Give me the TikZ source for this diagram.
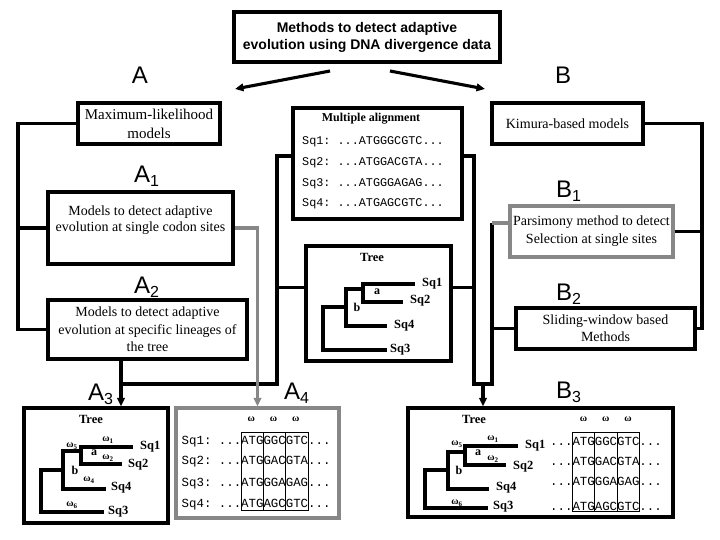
\documentclass[tikz,border=0pt]{standalone}
\usepackage{fontspec}
\setmainfont{Liberation Serif}
\setsansfont{Liberation Sans}
\setmonofont{Liberation Mono}
\usetikzlibrary{arrows.meta}
\definecolor{gline}{RGB}{135,135,135}
\newcommand{\lsub}[1]{\raisebox{-4pt}{\fontsize{16}{16}\selectfont #1}}
\newcommand{\wsub}[1]{ω\textsubscript{#1}}
\begin{document}
\begin{tikzpicture}[x=1pt,y=-1pt,
  mybox/.style={draw, line width=3.1pt, inner sep=0pt, align=center, font=\fontsize{14}{17.5}\selectfont},
  gbox/.style={mybox, draw=gline},
  conn/.style={line width=3.1pt},
  gconn/.style={line width=3.1pt, draw=gline},
  arr/.style={-{Triangle[length=8.5pt,width=7.5pt]}},
  lab/.style={font=\sffamily\fontsize{24}{24}\selectfont, inner sep=0pt},
  labs/.style={lab, anchor=base west},
  seq/.style={font=\ttfamily\fontsize{12.4}{12.4}\selectfont, inner sep=0pt, anchor=west},
  sqlab/.style={font=\bfseries\fontsize{12.5}{12.5}\selectfont, inner sep=0pt, anchor=west},
  tlc/.style={font=\bfseries\fontsize{12}{12}\selectfont, inner sep=0pt},
  treehead/.style={font=\bfseries\fontsize{12.5}{12.5}\selectfont, inner sep=0pt},
  om/.style={font=\bfseries\fontsize{10}{10}\selectfont, inner sep=0pt},
  treeline/.style={line width=3.2pt},
  colbox/.style={line width=0.8pt}
]
\fill[white] (0,0) rectangle (720,540);
\useasboundingbox (0,0) rectangle (720,540);

% ---------- labels
\node[lab] (labA) at (140,75) {A};
\node[lab] (labB) at (563,75) {B};
\node[labs] (labA1) at (134,183) {A\lsub{1}};
\node[labs] (labA2) at (134,293) {A\lsub{2}};
\node[labs] (labA3) at (88,400) {A\lsub{3}};
\node[labs] (labA4) at (284,399.6) {A\lsub{4}};
\node[labs] (labB1) at (556,198) {B\lsub{1}};
\node[labs] (labB2) at (556,300) {B\lsub{2}};
\node[labs] (labB3) at (556,398.6) {B\lsub{3}};

% ---------- boxes
\node[mybox, font=\sffamily\bfseries\fontsize{14}{17}\selectfont, minimum width=266pt, minimum height=50pt] (title) at (367,37) {Methods to detect adaptive\\evolution using DNA divergence data};
\node[mybox, minimum width=142pt, minimum height=41pt, font=\fontsize{15}{19}\selectfont] (ml) at (149,123.5) {Maximum-likelihood\\models};
\node[mybox, minimum width=151pt, minimum height=41pt] (kim) at (567.5,123.5) {Kimura-based models};
\node[mybox, minimum width=169pt, minimum height=111pt] (ma) at (377.5,163.5) {};
\node[mybox, minimum width=185pt, minimum height=72pt] (a1) at (140.5,228) {};
\node[font=\fontsize{14}{16.5}\selectfont, align=center, inner sep=0pt] (a1t) at (140.5,220) {Models to detect adaptive\\evolution at single codon sites};
\node[mybox, minimum width=199pt, minimum height=59pt] (a2) at (147.5,329.5) {Models to detect adaptive\\evolution at specific lineages of\\the tree};
\node[mybox, minimum width=145pt, minimum height=115pt] (tree) at (378.5,303.5) {};
\node[gbox, minimum width=163pt, minimum height=51pt, font=\fontsize{14}{18}\selectfont] (pars) at (591.5,231.5) {Parsimony method to detect\\Selection at single sites};
\node[mybox, minimum width=179pt, minimum height=41pt, font=\fontsize{14}{17}\selectfont] (slid) at (605.5,328.5) {Sliding-window based\\Methods};
\node[mybox, minimum width=144pt, minimum height=115pt] (a3) at (96,465.5) {};
\node[gbox, minimum width=163pt, minimum height=110pt] (a4) at (257.5,463) {};
\node[mybox, minimum width=265pt, minimum height=109pt] (b3) at (540.5,462.5) {};

% ---------- top arrows
\coordinate (t1s) at (330,71);
\coordinate (t1e) at (235,89);
\coordinate (t2s) at (390,71);
\coordinate (t2e) at (485,89);
\draw[conn,arr] (t1s) -- (t1e);
\draw[conn,arr] (t2s) -- (t2e);

% ---------- helper coordinates
\coordinate (lbus) at (18,0);
\coordinate (rbus) at (702,0);
\coordinate (cl) at (277,384);
\coordinate (j3) at (121,384);
\coordinate (cr1) at (474,384);
\coordinate (cr2) at (492,384);
\coordinate (j4) at (483,384);
\coordinate (maw) at ([yshift=7.5pt]ma.west);
\coordinate (mae) at ([yshift=7.5pt]ma.east);
\coordinate (trw) at ([yshift=16pt]tree.west);
\coordinate (tre) at ([yshift=16pt]tree.east);
\coordinate (pl) at ([yshift=8.5pt]pars.west);

% ---------- left bus
\draw[conn] (ml.west) -- (ml.west -| lbus) -- (a2.west -| lbus) -- (a2.west);
\draw[conn] (a1.west -| lbus) -- (a1.west);
% ---------- right bus
\draw[conn] (kim.east) -- (kim.east -| rbus) -- (slid.east -| rbus) -- (slid.east);
\draw[conn] (pars.east) -- (pars.east -| rbus);
% ---------- centre left bracket
\draw[conn] (maw) -| (cl) -- (j3);
\draw[conn] (trw) -- (trw -| cl);
\draw[conn] (a2.south -| j3) -- (j3);
\draw[conn,arr] (j3) -- (j3 |- a3.north);
% ---------- centre right bracket
\draw[conn] (mae) -| (cr1) -- (cr2) -- (pl -| cr2);
\draw[gconn] (pl -| cr2) -- (pl);
\draw[conn] (tre) -- (tre -| cr1);
\draw[conn] (slid.west -| cr2) -- (slid.west);
\draw[conn,arr] (j4) -- (j4 |- b3.north);
% ---------- gray A1 -> A4
\draw[gconn,arr] (a1.east) -| (a4.north);

% ---------- multiple alignment
\node[font=\bfseries\fontsize{12}{12}\selectfont, inner sep=0pt] (mah) at (371,119) {Multiple alignment};
\node[seq, font=\ttfamily\fontsize{11.8}{11.8}\selectfont] (m1) at (302,142) {Sq1: ...ATGGGCGTC...};
\node[seq, font=\ttfamily\fontsize{11.8}{11.8}\selectfont] (m2) at (302,163) {Sq2: ...ATGGACGTA...};
\node[seq, font=\ttfamily\fontsize{11.8}{11.8}\selectfont] (m3) at (302,184) {Sq3: ...ATGGGAGAG...};
\node[seq, font=\ttfamily\fontsize{11.8}{11.8}\selectfont] (m4) at (302,204) {Sq4: ...ATGAGCGTC...};

% ---------- centre tree
\node[treehead] (th) at (372,257) {Tree};
\draw[treeline] (415,284) -- (363,284) -- (363,302) -- (403,302);
\draw[treeline] (363,289) -- (346,289) -- (346,326) -- (387,326);
\draw[treeline] (346,307) -- (323,307) -- (323,350) -- (387,350);
\node[sqlab] (c1) at (422,284) {Sq1};
\node[sqlab] (c2) at (410,301) {Sq2};
\node[sqlab] (c4) at (394,326) {Sq4};
\node[sqlab] (c3) at (390,350) {Sq3};
\node[tlc] (ca) at (377,292) {a};
\node[tlc] (cb) at (357,307) {b};

% ---------- A3 tree
\node[treehead] (t3h) at (91,419) {Tree};
\draw[treeline] (133,447) -- (81,447) -- (81,464) -- (122,464);
\draw[treeline] (81,451) -- (63,451) -- (63,489) -- (106,489);
\draw[treeline] (63,470) -- (41,470) -- (41,512) -- (104,512);
\node[sqlab] (l1) at (140,447) {Sq1};
\node[sqlab] (l2) at (128,465) {Sq2};
\node[sqlab] (l4) at (111,488) {Sq4};
\node[sqlab] (l3) at (108,512) {Sq3};
\node[tlc] (la) at (94,453) {a};
\node[tlc] (lb) at (75,470) {b};
\node[om] (lw1) at (108,440) {\wsub{1}};
\node[om] (lw2) at (108,458) {\wsub{2}};
\node[om] (lw4) at (89,480) {\wsub{4}};
\node[om] (lw5) at (72,446) {\wsub{5}};
\node[om] (lw6) at (72,505) {\wsub{6}};

% ---------- A4 alignment
\node[om] (aw1) at (251.2,419) {ω};
\node[om] (aw2) at (273.5,419) {ω};
\node[om] (aw3) at (295.8,419) {ω};
\node[seq] (s1) at (181.5,442) {Sq1: ...ATGGGCGTC...};
\node[seq] (s2) at (181.5,462) {Sq2: ...ATGGACGTA...};
\node[seq] (s3) at (181.5,484) {Sq3: ...ATGGGAGAG...};
\node[seq] (s4) at (181.5,505) {Sq4: ...ATGAGCGTC...};
\draw[colbox] (241,432) rectangle (307.9,510);
\draw[colbox] (263.3,432) -- (263.3,510);
\draw[colbox] (285.6,432) -- (285.6,510);

% ---------- B3 tree
\node[treehead] (t4h) at (474,419) {Tree};
\draw[treeline] (518,446) -- (465,446) -- (465,465) -- (506,465);
\draw[treeline] (465,452) -- (448,452) -- (448,489) -- (489,489);
\draw[treeline] (448,470) -- (425,470) -- (425,508) -- (488,508);
\node[sqlab] (r1) at (525,446) {Sq1};
\node[sqlab] (r2) at (513,467) {Sq2};
\node[sqlab] (r4) at (496,488) {Sq4};
\node[sqlab] (r3) at (493,507) {Sq3};
\node[tlc] (ra) at (478,453) {a};
\node[tlc] (rb) at (459,470) {b};
\node[om] (rw1) at (493,439) {\wsub{1}};
\node[om] (rw2) at (493,459) {\wsub{2}};
\node[om] (rw5) at (457,444) {\wsub{5}};
\node[om] (rw6) at (457,503) {\wsub{6}};

% ---------- B3 alignment
\node[om] (bw1) at (583.5,419) {ω};
\node[om] (bw2) at (605.8,419) {ω};
\node[om] (bw3) at (628.1,419) {ω};
\node[seq] (q1) at (550,441) {...ATGGGCGTC...};
\node[seq] (q2) at (550,461) {...ATGGACGTA...};
\node[seq] (q3) at (550,481) {...ATGGGAGAG...};
\node[seq] (q4) at (550,506) {...ATGAGCGTC...};
\draw[colbox] (572.3,432) rectangle (639.2,511);
\draw[colbox] (594.6,432) -- (594.6,511);
\draw[colbox] (616.9,432) -- (616.9,511);
\end{tikzpicture}
\end{document}
